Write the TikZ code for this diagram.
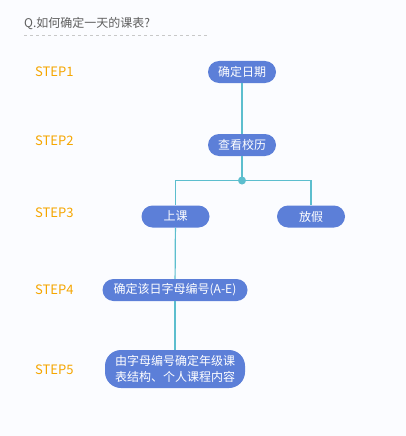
\documentclass[tikz,border=0pt]{standalone}
\usepackage{fontspec}
\newfontfamily\cjk{Noto Sans CJK SC}
\usetikzlibrary{positioning}

\definecolor{bgcol}{RGB}{251,252,255}
\definecolor{boxcol}{RGB}{92,127,216}
\definecolor{linkcol}{RGB}{92,190,206}
\definecolor{stepcol}{RGB}{245,166,0}
\definecolor{titlecol}{RGB}{95,95,95}
\definecolor{dashcol}{RGB}{200,200,200}

\tikzset{
  pill/.style={rectangle, rounded corners=11pt, fill=boxcol, text=white,
    minimum width=68pt, minimum height=22pt, inner sep=0pt,
    font=\cjk\fontsize{12}{16}\selectfont},
  steplabel/.style={anchor=west, text=stepcol, inner sep=0pt, font=\cjk\fontsize{13}{15}\selectfont},
  link/.style={draw=linkcol, line width=1.2pt}
}

\begin{document}
\begin{tikzpicture}[x=1pt, y=-1pt]
  \fill[bgcol] (0,0) rectangle (406,436);
  \useasboundingbox (0,0) rectangle (406,436);

  % Title
  \node (title) [anchor=west, text=titlecol, font=\cjk\fontsize{12}{14}\selectfont, inner sep=0pt] at (24,24) {Q.如何确定一天的课表?};
  \draw[dashcol, dash pattern=on 3pt off 3pt, line width=0.8pt] (24,35) -- (208,35);

  % Step labels
  \node (s1) [steplabel] at (35,72) {STEP1};
  \node (s2) [steplabel] at (35,141) {STEP2};
  \node (s3) [steplabel] at (35,213) {STEP3};
  \node (s4) [steplabel] at (35,290) {STEP4};
  \node (s5) [steplabel] at (35,370) {STEP5};

  % Nodes
  \node (date) [pill] at (242,72) {确定日期};
  \node (cal) [pill] at (242,145) {查看校历};
  \coordinate (split) at (242,180.5);
  \node (class) [pill] at (175.5,216.5) {上课};
  \node (holiday) [pill] at (311,216.5) {放假};
  \node (letter) [pill, minimum width=145pt] at (175,290) {确定该日字母编号(A-E)};
  \node (content) [pill, minimum width=140pt, minimum height=38pt, rounded corners=16pt, align=center] at (175,369) {由字母编号确定年级课\\表结构、个人课程内容};

  % Links
  \draw[link] (date) -- (cal);
  \draw[link] (cal) -- (split);
  \draw[link] (split) -| (class);
  \draw[link] (split) -| (holiday);
  \draw[link] (class) -- (letter);
  \draw[link] (letter) -- (content);
  \fill[linkcol] (split) circle (4pt);
\end{tikzpicture}
\end{document}
